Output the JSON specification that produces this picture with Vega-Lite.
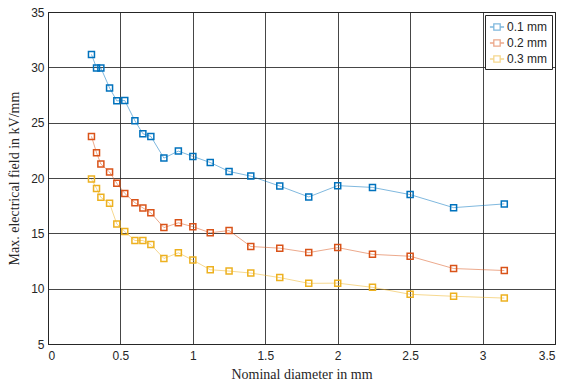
{
  "$schema": "https://vega.github.io/schema/vega-lite/v6.json",
  "width": 507,
  "height": 332,
  "autosize": "none",
  "padding": {"left": 48, "right": 18, "top": 12, "bottom": 42},
  "background": "white",
  "config": {
    "view": {"stroke": "#262626", "strokeWidth": 1},
    "axis": {
      "labelFont": "Liberation Sans",
      "labelFontSize": 12,
      "labelColor": "#262626",
      "titleFont": "Liberation Serif",
      "titleFontSize": 14,
      "titleFontWeight": "normal",
      "titleColor": "#262626",
      "domainColor": "#262626",
      "gridColor": "#262626",
      "gridOpacity": 0.85,
      "ticks": false
    }
  },
  "data": {
    "values": [
      {"d": 0.30, "E": 31.17, "s": "0.1 mm"},
      {"d": 0.335, "E": 29.95, "s": "0.1 mm"},
      {"d": 0.365, "E": 29.95, "s": "0.1 mm"},
      {"d": 0.425, "E": 28.14, "s": "0.1 mm"},
      {"d": 0.475, "E": 26.97, "s": "0.1 mm"},
      {"d": 0.53, "E": 27.0, "s": "0.1 mm"},
      {"d": 0.60, "E": 25.17, "s": "0.1 mm"},
      {"d": 0.655, "E": 24.0, "s": "0.1 mm"},
      {"d": 0.71, "E": 23.76, "s": "0.1 mm"},
      {"d": 0.80, "E": 21.8, "s": "0.1 mm"},
      {"d": 0.90, "E": 22.43, "s": "0.1 mm"},
      {"d": 1.00, "E": 21.95, "s": "0.1 mm"},
      {"d": 1.12, "E": 21.4, "s": "0.1 mm"},
      {"d": 1.25, "E": 20.59, "s": "0.1 mm"},
      {"d": 1.40, "E": 20.17, "s": "0.1 mm"},
      {"d": 1.60, "E": 19.27, "s": "0.1 mm"},
      {"d": 1.80, "E": 18.29, "s": "0.1 mm"},
      {"d": 2.00, "E": 19.31, "s": "0.1 mm"},
      {"d": 2.24, "E": 19.15, "s": "0.1 mm"},
      {"d": 2.50, "E": 18.5, "s": "0.1 mm"},
      {"d": 2.80, "E": 17.32, "s": "0.1 mm"},
      {"d": 3.15, "E": 17.66, "s": "0.1 mm"},
      {"d": 0.30, "E": 23.76, "s": "0.2 mm"},
      {"d": 0.335, "E": 22.29, "s": "0.2 mm"},
      {"d": 0.365, "E": 21.26, "s": "0.2 mm"},
      {"d": 0.425, "E": 20.54, "s": "0.2 mm"},
      {"d": 0.475, "E": 19.52, "s": "0.2 mm"},
      {"d": 0.53, "E": 18.61, "s": "0.2 mm"},
      {"d": 0.60, "E": 17.77, "s": "0.2 mm"},
      {"d": 0.655, "E": 17.3, "s": "0.2 mm"},
      {"d": 0.71, "E": 16.85, "s": "0.2 mm"},
      {"d": 0.80, "E": 15.52, "s": "0.2 mm"},
      {"d": 0.90, "E": 15.95, "s": "0.2 mm"},
      {"d": 1.00, "E": 15.6, "s": "0.2 mm"},
      {"d": 1.12, "E": 15.05, "s": "0.2 mm"},
      {"d": 1.25, "E": 15.25, "s": "0.2 mm"},
      {"d": 1.40, "E": 13.81, "s": "0.2 mm"},
      {"d": 1.60, "E": 13.66, "s": "0.2 mm"},
      {"d": 1.80, "E": 13.26, "s": "0.2 mm"},
      {"d": 2.00, "E": 13.71, "s": "0.2 mm"},
      {"d": 2.24, "E": 13.1, "s": "0.2 mm"},
      {"d": 2.50, "E": 12.93, "s": "0.2 mm"},
      {"d": 2.80, "E": 11.82, "s": "0.2 mm"},
      {"d": 3.15, "E": 11.64, "s": "0.2 mm"},
      {"d": 0.30, "E": 19.9, "s": "0.3 mm"},
      {"d": 0.335, "E": 19.06, "s": "0.3 mm"},
      {"d": 0.365, "E": 18.25, "s": "0.3 mm"},
      {"d": 0.425, "E": 17.71, "s": "0.3 mm"},
      {"d": 0.475, "E": 15.85, "s": "0.3 mm"},
      {"d": 0.53, "E": 15.16, "s": "0.3 mm"},
      {"d": 0.60, "E": 14.35, "s": "0.3 mm"},
      {"d": 0.655, "E": 14.35, "s": "0.3 mm"},
      {"d": 0.71, "E": 13.99, "s": "0.3 mm"},
      {"d": 0.80, "E": 12.73, "s": "0.3 mm"},
      {"d": 0.90, "E": 13.24, "s": "0.3 mm"},
      {"d": 1.00, "E": 12.58, "s": "0.3 mm"},
      {"d": 1.12, "E": 11.71, "s": "0.3 mm"},
      {"d": 1.25, "E": 11.59, "s": "0.3 mm"},
      {"d": 1.40, "E": 11.41, "s": "0.3 mm"},
      {"d": 1.60, "E": 11.0, "s": "0.3 mm"},
      {"d": 1.80, "E": 10.48, "s": "0.3 mm"},
      {"d": 2.00, "E": 10.5, "s": "0.3 mm"},
      {"d": 2.24, "E": 10.12, "s": "0.3 mm"},
      {"d": 2.50, "E": 9.49, "s": "0.3 mm"},
      {"d": 2.80, "E": 9.31, "s": "0.3 mm"},
      {"d": 3.15, "E": 9.15, "s": "0.3 mm"}
    ]
  },
  "encoding": {
    "x": {
      "field": "d", "type": "quantitative",
      "scale": {"domain": [0, 3.5], "nice": false, "zero": false},
      "axis": {"values": [0, 0.5, 1, 1.5, 2, 2.5, 3, 3.5], "title": "Nominal diameter in mm", "labelPadding": 6, "titlePadding": 6, "format": "~g"}
    },
    "y": {
      "field": "E", "type": "quantitative",
      "scale": {"domain": [5, 35], "nice": false, "zero": false},
      "axis": {"values": [5, 10, 15, 20, 25, 30, 35], "title": "Max. electrical field in kV/mm", "labelPadding": 4, "titlePadding": 9}
    },
    "color": {
      "field": "s", "type": "nominal",
      "scale": {"domain": ["0.1 mm", "0.2 mm", "0.3 mm"], "range": ["#0072BD", "#D95319", "#EDB120"]},
      "legend": {
        "title": null,
        "orient": "top-right",
        "offset": 3,
        "strokeColor": "#262626",
        "fillColor": "white",
        "padding": 4,
        "labelFont": "Liberation Sans",
        "labelFontSize": 12,
        "labelColor": "#262626",
        "symbolType": "M-1,0H-0.45M0.45,0H1M-0.45,-0.45H0.45V0.45H-0.45Z",
        "symbolSize": 200,
        "symbolStrokeWidth": 1.3,
        "symbolFillColor": "transparent",
        "rowPadding": 2,
        "labelOffset": 2
      }
    }
  },
  "layer": [
    {"mark": {"type": "line", "strokeWidth": 1, "opacity": 0.5}},
    {"mark": {"type": "point", "shape": "square", "filled": false, "size": 36, "strokeWidth": 1.5, "opacity": 1}}
  ]
}
